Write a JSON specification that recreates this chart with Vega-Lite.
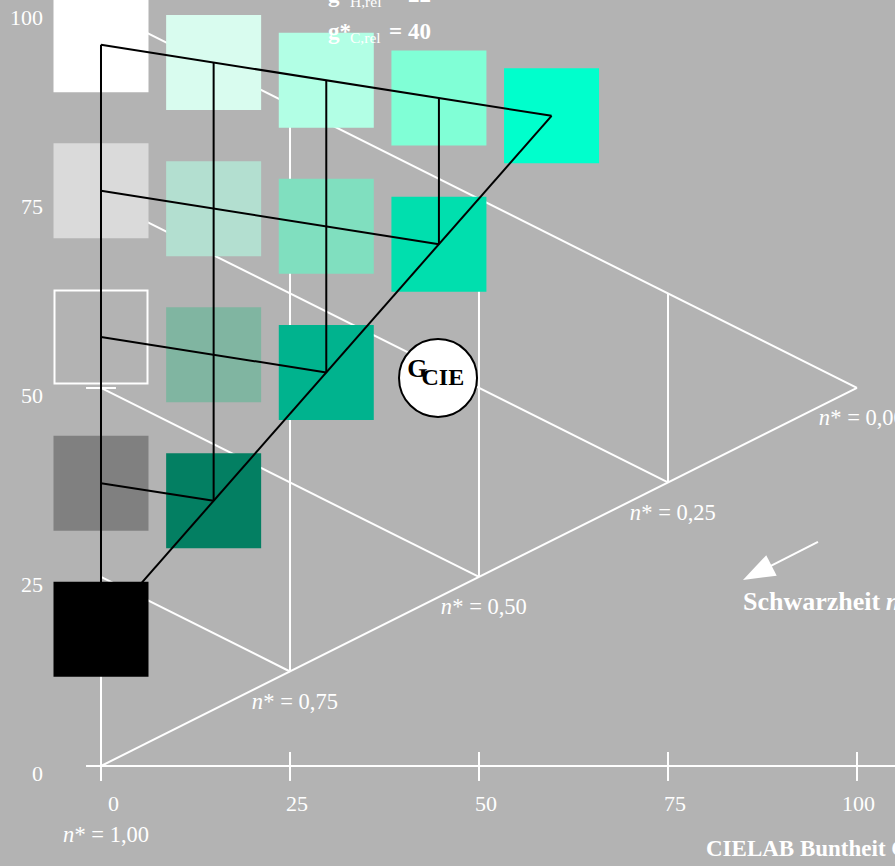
{
  "$schema": "https://vega.github.io/schema/vega-lite/v6.json",
  "width": 895,
  "height": 866,
  "padding": 0,
  "autosize": {"type": "none"},
  "background": "#b3b3b3",
  "config": {"view": {"stroke": null}, "text": {"font": "Liberation Serif"}},
  "encoding": {
    "x": {"field": "x", "type": "quantitative", "scale": {"domain": [-13.36, 105.03], "nice": false, "zero": false}, "axis": null},
    "y": {"field": "y", "type": "quantitative", "scale": {"domain": [-13.23, 101.32], "nice": false, "zero": false}, "axis": null}
  },
  "layer": [
    {
      "data": {"values": [
        {"x": 0, "y": 0, "x2": 100, "y2": 50},
        {"x": 0, "y": 100, "x2": 100, "y2": 50},
        {"x": 0, "y": 75, "x2": 75, "y2": 37.5},
        {"x": 0, "y": 50, "x2": 50, "y2": 25},
        {"x": 0, "y": 25, "x2": 25, "y2": 12.5},
        {"x": 25, "y": 12.5, "x2": 25, "y2": 87.5},
        {"x": 50, "y": 25, "x2": 50, "y2": 75},
        {"x": 75, "y": 37.5, "x2": 75, "y2": 62.5},
        {"x": 0, "y": -1.98, "x2": 0, "y2": 100},
        {"x": -1.98, "y": 0, "x2": 106, "y2": 0},
        {"x": 25, "y": 1.85, "x2": 25, "y2": -1.98},
        {"x": 50, "y": 1.85, "x2": 50, "y2": -1.98},
        {"x": 75, "y": 1.85, "x2": 75, "y2": -1.98},
        {"x": 100, "y": 1.85, "x2": 100, "y2": -1.98},
        {"x": -1.98, "y": 50, "x2": 1.98, "y2": 50}
      ]},
      "mark": {"type": "rule", "color": "white", "strokeWidth": 2},
      "encoding": {"x2": {"field": "x2"}, "y2": {"field": "y2"}}
    },
    {
      "data": {"values": [
        {"x": 0, "y": 95.4, "p": "a0"},
        {"x": 0, "y": 76.1, "p": "a1"},
        {"x": 0, "y": 37.4, "p": "a3"},
        {"x": 0, "y": 18.1, "p": "a4"},
        {"x": 14.9, "y": 93.05, "p": "b0"},
        {"x": 14.9, "y": 73.7, "p": "b1"},
        {"x": 14.9, "y": 54.4, "p": "b2"},
        {"x": 14.9, "y": 35.07, "p": "b3"},
        {"x": 29.8, "y": 90.7, "p": "c0"},
        {"x": 29.8, "y": 71.4, "p": "c1"},
        {"x": 29.8, "y": 52.05, "p": "c2"},
        {"x": 44.7, "y": 88.35, "p": "d0"},
        {"x": 44.7, "y": 69.0, "p": "d1"},
        {"x": 59.6, "y": 86.0, "p": "e0"}
      ]},
      "mark": {"type": "square", "size": 9025, "opacity": 1, "filled": true, "strokeWidth": 0},
      "encoding": {
        "color": {"field": "p", "type": "nominal", "legend": null,
          "scale": {
            "domain": ["a0", "a1", "a3", "a4", "b0", "b1", "b2", "b3", "c0", "c1", "c2", "d0", "d1", "e0"],
            "range": ["#ffffff", "#dadada", "#808080", "#000000", "#d9fcef", "#b3dfd0", "#80b5a1", "#037f62", "#b2ffe5", "#80dfbf", "#00b38e", "#80ffd6", "#00dfae", "#00ffcc"]
          }}
      }
    },
    {
      "data": {"values": [{"x": 0, "y": 56.75}]},
      "mark": {"type": "square", "size": 8649, "filled": false, "stroke": "white", "strokeWidth": 2, "opacity": 1}
    },
    {
      "data": {"values": [
        {"x": 0, "y": 95.4, "x2": 59.6, "y2": 86.0},
        {"x": 0, "y": 95.4, "x2": 0, "y2": 18.1},
        {"x": 0, "y": 18.1, "x2": 59.6, "y2": 86.0},
        {"x": 0, "y": 76.1, "x2": 44.7, "y2": 69.0},
        {"x": 0, "y": 56.75, "x2": 29.8, "y2": 52.05},
        {"x": 0, "y": 37.4, "x2": 14.9, "y2": 35.07},
        {"x": 14.9, "y": 93.05, "x2": 14.9, "y2": 35.07},
        {"x": 29.8, "y": 90.7, "x2": 29.8, "y2": 52.05},
        {"x": 44.7, "y": 88.35, "x2": 44.7, "y2": 69.0}
      ]},
      "mark": {"type": "rule", "color": "black", "strokeWidth": 2},
      "encoding": {"x2": {"field": "x2"}, "y2": {"field": "y2"}}
    },
    {
      "data": {"values": [{"x": 44.58, "y": 51.32}]},
      "mark": {"type": "circle", "size": 6084, "fill": "white", "stroke": "black", "strokeWidth": 2, "opacity": 1}
    },
    {
      "data": {"values": [{"x": 94.84, "y": 29.63, "x2": 86.5, "y2": 25.4}]},
      "mark": {"type": "rule", "color": "white", "strokeWidth": 2},
      "encoding": {"x2": {"field": "x2"}, "y2": {"field": "y2"}}
    },
    {
      "data": {"values": [{"x": 84.92, "y": 24.6}]},
      "mark": {"type": "point", "shape": "M0,0L0.36,1L-0.36,1Z", "size": 4096, "angle": 243, "filled": true, "color": "white", "opacity": 1}
    },
    {
      "data": {"values": [
        {"x": -7.67, "y": 100, "t": "100"},
        {"x": -7.67, "y": 75, "t": "75"},
        {"x": -7.67, "y": 50, "t": "50"},
        {"x": -7.67, "y": 25, "t": "25"},
        {"x": -7.67, "y": 0, "t": "0"}
      ]},
      "mark": {"type": "text", "align": "right", "baseline": "alphabetic", "dy": 15, "fontSize": 22, "color": "white"},
      "encoding": {"text": {"field": "t"}}
    },
    {
      "data": {"values": [
        {"x": 0, "y": 0, "t": "0"},
        {"x": 25, "y": 0, "t": "25"},
        {"x": 50, "y": 0, "t": "50"},
        {"x": 75, "y": 0, "t": "75"},
        {"x": 100, "y": 0, "t": "100"}
      ]},
      "mark": {"type": "text", "align": "right", "baseline": "alphabetic", "dx": 18, "dy": 44.7, "fontSize": 22, "color": "white"},
      "encoding": {"text": {"field": "t"}}
    },
    {
      "data": {"name": "nlabels", "values": [
        {"x": -5.03, "y": -10.05, "rest": "* = 1,00"},
        {"x": 19.95, "y": 7.6, "rest": "* = 0,75"},
        {"x": 44.95, "y": 20.1, "rest": "* = 0,50"},
        {"x": 69.95, "y": 32.6, "rest": "* = 0,25"},
        {"x": 94.95, "y": 45.1, "rest": "* = 0,00"}
      ]},
      "layer": [
        {"mark": {"type": "text", "text": "n", "align": "left", "baseline": "alphabetic", "fontSize": 22.5, "fontStyle": "italic", "color": "white"}},
        {"mark": {"type": "text", "align": "left", "baseline": "alphabetic", "dx": 11.5, "fontSize": 22.5, "color": "white"},
         "encoding": {"text": {"field": "rest"}}}
      ]
    },
    {
      "data": {"values": [
        {"x": 84.92, "y": 20.63, "t": "Schwarzheit"}
      ]},
      "mark": {"type": "text", "align": "left", "baseline": "alphabetic", "fontSize": 26, "fontWeight": "bold", "color": "white"},
      "encoding": {"text": {"field": "t"}}
    },
    {
      "data": {"values": [
        {"x": 80.03, "y": -11.9, "t": "CIELAB Buntheit C*ab"},
        {"x": 30.03, "y": 96.12, "t": "g*"},
        {"x": 30.03, "y": 101.04, "t": "g*"},
        {"x": 38.1, "y": 96.12, "t": "= 40"},
        {"x": 38.1, "y": 101.04, "t": "= 22"}
      ]},
      "mark": {"type": "text", "align": "left", "baseline": "alphabetic", "fontSize": 23, "fontWeight": "bold", "color": "white"},
      "encoding": {"text": {"field": "t"}}
    },
    {
      "data": {"values": [{"x": 103.8, "y": 20.63, "t": "n*"}]},
      "mark": {"type": "text", "align": "left", "baseline": "alphabetic", "fontSize": 26, "fontWeight": "bold", "fontStyle": "italic", "color": "white"},
      "encoding": {"text": {"field": "t"}}
    },
    {
      "data": {"values": [
        {"x": 32.94, "y": 95.57, "t": "C,rel"},
        {"x": 32.94, "y": 100.4, "t": "H,rel"}
      ]},
      "mark": {"type": "text", "align": "left", "baseline": "alphabetic", "fontSize": 15.5, "color": "white"},
      "encoding": {"text": {"field": "t"}}
    },
    {
      "data": {"values": [{"x": 40.5, "y": 51.46, "t": "G"}]},
      "mark": {"type": "text", "align": "left", "baseline": "alphabetic", "fontSize": 26, "fontWeight": "bold", "color": "black"},
      "encoding": {"text": {"field": "t"}}
    },
    {
      "data": {"values": [{"x": 42.4, "y": 50.4, "t": "CIE"}]},
      "mark": {"type": "text", "align": "left", "baseline": "alphabetic", "fontSize": 24, "fontWeight": "bold", "color": "black"},
      "encoding": {"text": {"field": "t"}}
    }
  ]
}
